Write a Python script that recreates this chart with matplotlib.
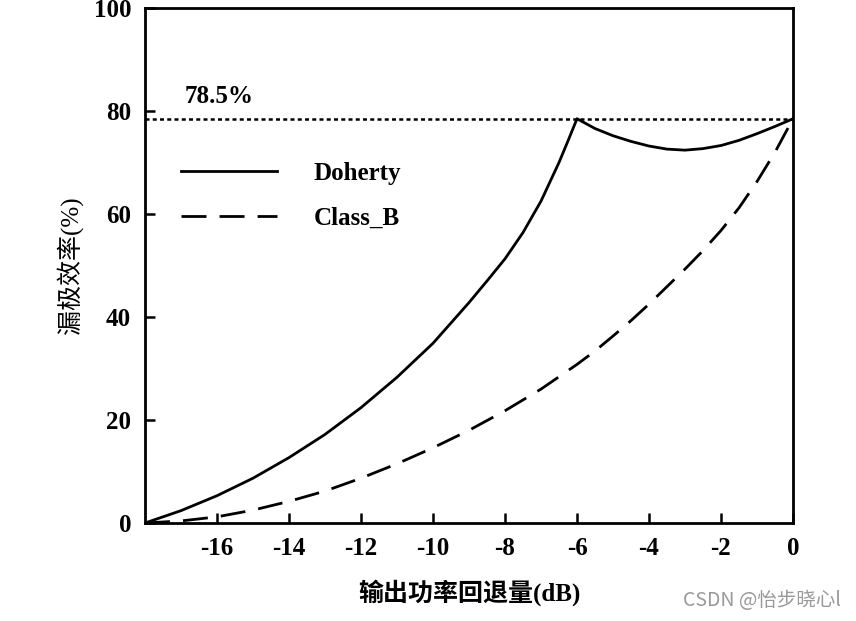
import numpy as np
import matplotlib.pyplot as plt

plt.rcParams['axes.unicode_minus'] = False

# 数据
x_doh = [-18, -17, -16, -15, -14, -13, -12, -11, -10, -9, -8.5, -8, -7.5, -7, -6.5, -6.25, -6,
         -5.5, -5, -4.5, -4, -3.5, -3, -2.5, -2, -1.5, -1, -0.5, 0]
y_doh = [0, 2.4, 5.3, 8.7, 12.7, 17.2, 22.4, 28.3, 34.9, 42.8, 47.0, 51.3, 56.4, 62.5, 70.0, 74.2, 78.5,
         76.6, 75.2, 74.1, 73.2, 72.6, 72.4, 72.7, 73.3, 74.3, 75.6, 77.0, 78.5]

x_b = [-18, -17, -16, -15, -14, -13, -12, -11, -10, -9, -8, -7, -6, -5.5, -5, -4.5, -4, -3.5,
       -3, -2.5, -2, -1.5, -1, -0.5, 0]
y_b = [0, 0.4, 1.2, 2.5, 4.2, 6.2, 8.7, 11.5, 14.6, 18.0, 21.8, 26.0, 30.8, 33.4, 36.3, 39.3, 42.5, 45.9,
       49.3, 52.9, 56.8, 61.2, 66.3, 72.0, 78.5]

peak = 78.5
xticks = [-16, -14, -12, -10, -8, -6, -4, -2, 0]
yticks = [0, 20, 40, 60, 80, 100]

serif = ['Liberation Serif', 'Noto Sans CJK SC']

fig = plt.figure(figsize=(8.56, 6.21), dpi=100)
ax = fig.add_axes([0.1694, 0.1578, 0.757, 0.8293])

ax.plot(x_doh, y_doh, color='black', lw=2.0, label='Doherty')
ax.plot(x_b, y_b, color='black', lw=2.0, ls=(0, (9, 4.7)), label='Class_B')
ax.plot([-18, 0], [peak, peak], color='black', lw=1.8, ls=(0, (1.6, 1.3)))

ax.text(-16.9, 81.5, '78.5%', fontsize=18, fontweight='bold', family=serif)

ax.set_xlim(-18, 0)
ax.set_ylim(0, 100)
ax.set_xticks(xticks)
ax.set_yticks(yticks)
ax.tick_params(direction='in', length=7, width=1.8, pad=10)
for lab in ax.get_xticklabels() + ax.get_yticklabels():
    lab.set_family(serif)
    lab.set_fontweight('bold')
    lab.set_fontsize(18)
for s in ax.spines.values():
    s.set_linewidth(2.0)

ax.set_xlabel('输出功率回退量(dB)', fontsize=18, fontweight='bold', family=serif, labelpad=14)
ax.set_ylabel('漏极效率(%)', fontsize=18, family=serif, labelpad=8)

leg = ax.legend(loc='upper left', bbox_to_anchor=(0.04, 0.72), frameon=False,
                handlelength=3.85, handletextpad=1.45, labelspacing=0.85, borderaxespad=0,
                prop={'family': serif, 'weight': 'bold', 'size': 18})

fig.text(0.982, 0.016, 'CSDN @怡步晓心l', ha='right', va='bottom', fontsize=14,
         color='#999999', family=['Noto Sans CJK SC', 'DejaVu Sans'])

fig.savefig('out.png', dpi=100)
